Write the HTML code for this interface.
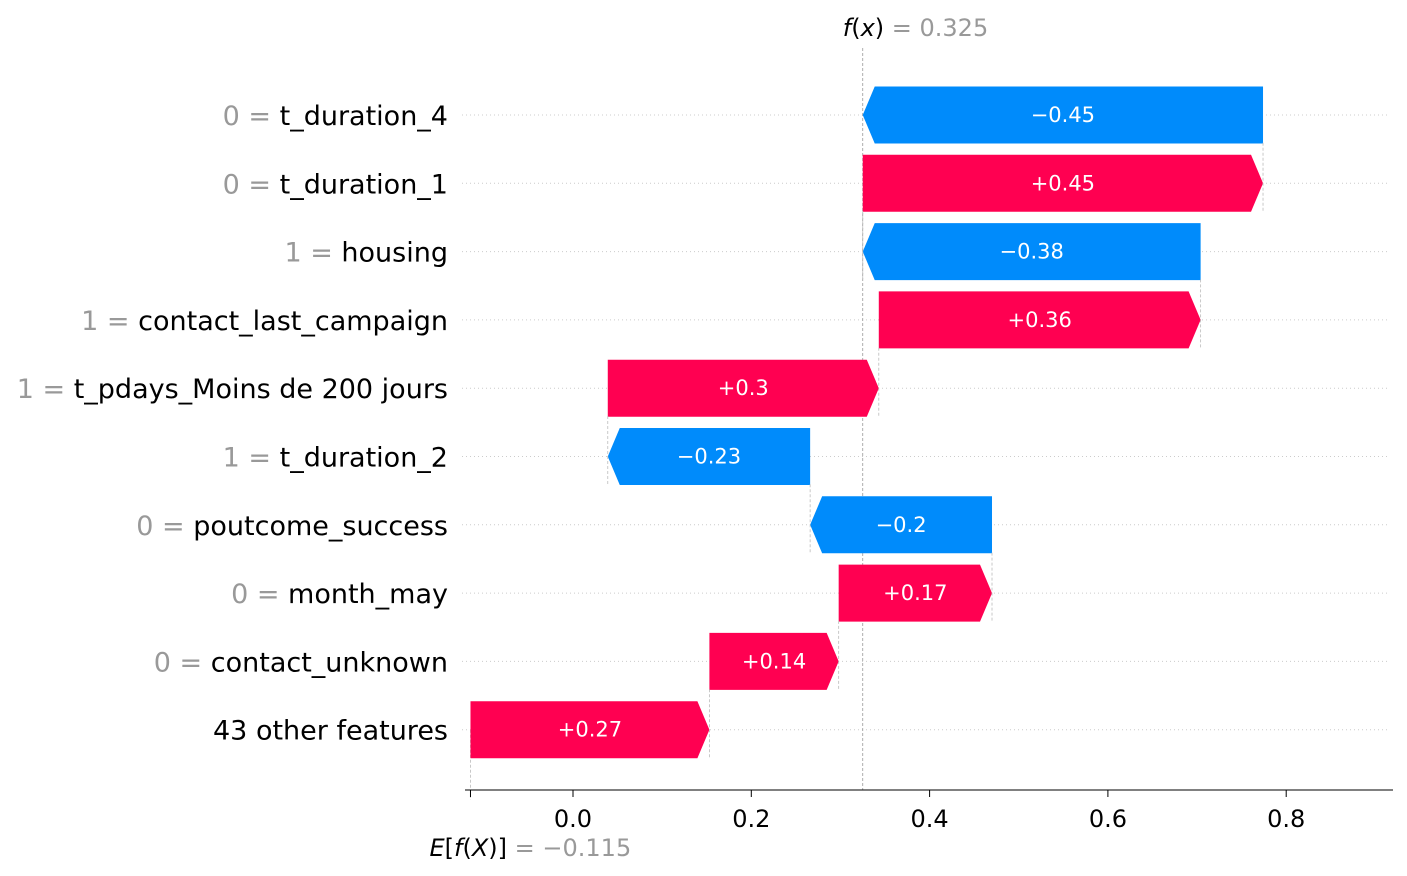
<!DOCTYPE html>
<html><head><meta charset="utf-8">
<style>
html,body{margin:0;padding:0;background:#fff;}
svg{display:block;font-family:"DejaVu Sans","Liberation Sans",sans-serif;}
</style></head>
<body>
<svg id="chart" width="1407" height="876" viewBox="0 0 1407 876"></svg>
<script>
const featureNames = ["t_duration_4","t_duration_1","housing","contact_last_campaign","t_pdays_Moins de 200 jours","t_duration_2","poutcome_success","month_may","contact_unknown","43 other features"];
const featureValues = ["0","0","1","1","1","1","0","0","0",""];
const shapValues = [-0.449,0.449,-0.379,0.361,0.304,-0.227,-0.204,0.172,0.145,0.268];
const baseValue = -0.115;
const tickValues = [0.0,0.2,0.4,0.6,0.8];
const tickLabels = ["0.0","0.2","0.4","0.6","0.8"];

const NS="http://www.w3.org/2000/svg";
const svg=document.getElementById('chart');
function xs(v){return 573+v*891.5;}
function ys(i){return 115+i*68.3;}
function mk(tag,attrs,parent){const e=document.createElementNS(NS,tag);for(const k in attrs)e.setAttribute(k,attrs[k]);(parent||svg).appendChild(e);return e;}
const RED="#ff0051",BLUE="#008bfb";
const n=featureNames.length;
const starts=new Array(n),ends=new Array(n);
let cur=baseValue;
for(let i=n-1;i>=0;i--){starts[i]=cur;cur+=shapValues[i];ends[i]=cur;}
const fx=cur;
for(let i=0;i<n;i++){
  const g=mk('line',{x1:462,x2:1390,y1:ys(i),y2:ys(i),stroke:"#ccc","stroke-width":1,"stroke-dasharray":"1,3"});
  
  
}
const fl=mk('line',{x1:xs(fx),x2:xs(fx),y1:48,y2:790,stroke:"#999","stroke-width":0.8,"stroke-dasharray":"3,2"});


const bl=mk('line',{x1:xs(baseValue),x2:xs(baseValue),y1:ys(n-1),y2:800,stroke:"#bbb","stroke-width":0.8,"stroke-dasharray":"3,2"});


const H=57,tip=12;
for(let i=0;i<n;i++){
  const y=ys(i),a=xs(starts[i]),b=xs(ends[i]);
  const pos=shapValues[i]>=0;
  let pts;
  if(pos){const t=Math.min(tip,b-a);pts=[[a,y-H/2],[b-t,y-H/2],[b,y],[b-t,y+H/2],[a,y+H/2]];}
  else{const t=Math.min(tip,a-b);pts=[[a,y-H/2],[b+t,y-H/2],[b,y],[b+t,y+H/2],[a,y+H/2]];}
  const p=mk('polygon',{points:pts.map(q=>q.join(',')).join(' '),fill:pos?RED:BLUE});
  
  
  if(i>0){
    const c=mk('line',{x1:b,x2:b,y1:y-H/2-12,y2:y+H/2,stroke:"#bbb","stroke-width":0.8,"stroke-dasharray":"3,2"});
    
    
  }
  const lab=(pos?"+":"\u2212")+String(Math.round(Math.abs(shapValues[i])*100)/100);
  const t=mk('text',{x:(a+b)/2,y:y+7,"text-anchor":"middle",fill:"#fff","font-size":21});
  t.textContent=lab;
  
  
  const fl2=mk('text',{x:448,y:y+10,"text-anchor":"end","font-size":27,fill:"#000"});
  if(featureValues[i]!==""){
    const s=mk('tspan',{fill:"#999"},fl2);s.textContent=featureValues[i]+" = ";
  }
  const s2=mk('tspan',{},fl2);s2.textContent=featureNames[i];
  
  
}
const ax=mk('line',{x1:465,x2:1393,y1:790,y2:790,stroke:"#000","stroke-width":1});


const bt=mk('line',{x1:xs(baseValue),x2:xs(baseValue),y1:790,y2:797,stroke:"#000","stroke-width":1});


for(let k=0;k<tickValues.length;k++){
  const x=xs(tickValues[k]);
  const tk=mk('line',{x1:x,x2:x,y1:790,y2:797,stroke:"#000","stroke-width":1});
  
  
  const tl=mk('text',{x:x,y:827,"text-anchor":"middle","font-size":24,fill:"#000"});
  tl.textContent=tickLabels[k];
  
  
}
const ft=mk('text',{x:xs(fx)-20,y:36,"text-anchor":"start","font-size":24,fill:"#000"});
const f1=mk('tspan',{"font-style":"italic"},ft);f1.textContent="f";
const f2=mk('tspan',{},ft);f2.textContent="(";
const f3=mk('tspan',{"font-style":"italic"},ft);f3.textContent="x";
const f4=mk('tspan',{},ft);f4.textContent=")";
const f5=mk('tspan',{fill:"#999"},ft);f5.textContent=" = "+fx.toFixed(3);


const et=mk('text',{x:xs(baseValue)-41,y:856,"text-anchor":"start","font-size":24,fill:"#000"});
const e1=mk('tspan',{"font-style":"italic"},et);e1.textContent="E";
const e2=mk('tspan',{},et);e2.textContent="[";
const e3=mk('tspan',{"font-style":"italic"},et);e3.textContent="f";
const e4=mk('tspan',{},et);e4.textContent="(";
const e5=mk('tspan',{"font-style":"italic"},et);e5.textContent="X";
const e6=mk('tspan',{},et);e6.textContent=")]";
const e7=mk('tspan',{fill:"#999"},et);e7.textContent=" = \u2212"+Math.abs(baseValue).toFixed(3);


</script>
</body></html>
